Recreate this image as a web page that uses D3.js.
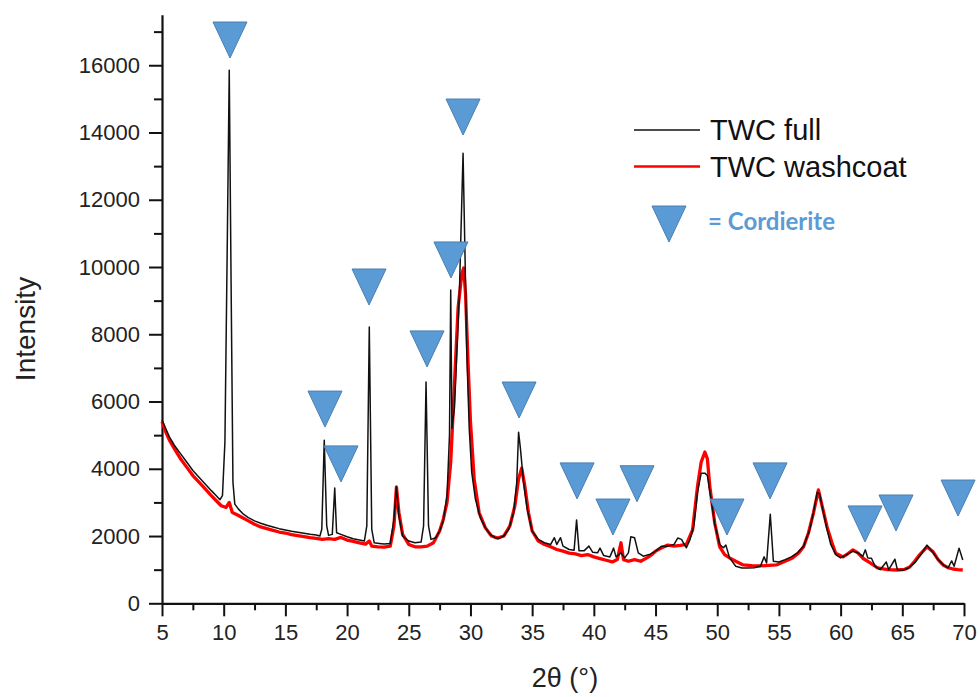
<!DOCTYPE html>
<html>
<head>
<meta charset="utf-8">
<script src="https://cdn.jsdelivr.net/npm/d3@7/dist/d3.min.js"></script>
<style>
  html, body { margin: 0; padding: 0; background: #fff; }
  svg { display: block; }
  .axis text { font-family: "Liberation Sans", Arial, sans-serif; font-size: 22px; fill: #222; }
  .axis path, .axis line { stroke: #111; }
</style>
</head>
<body>
<svg id="chart" width="980" height="697"></svg>
<script>
// XRD pattern of the full three-way catalyst: [2θ (°), intensity]
const twcFull = [
  [5.0,5450],[5.3,5200],[5.6,4950],[6.0,4700],[6.5,4450],[7.0,4200],[7.5,3950],[8.0,3750],
  [8.5,3550],[9.0,3350],[9.4,3200],[9.7,3080],[9.9,3200],[10.1,4800],[10.3,11000],[10.45,15850],
  [10.6,9500],[10.75,3600],[10.9,2950],[11.2,2800],[11.6,2650],[12.0,2550],[12.5,2450],[13.0,2380],
  [13.5,2320],[14.0,2270],[14.5,2220],[15.0,2180],[15.5,2140],[16.0,2110],[16.5,2080],[17.0,2050],
  [17.5,2030],[17.8,2000],[17.95,2200],[18.15,4850],[18.35,2300],[18.5,2020],[18.8,2050],[19.0,3430],
  [19.15,2100],[19.5,2050],[20.0,1980],[20.5,1920],[21.0,1880],[21.4,1850],[21.6,2300],[21.8,8215],
  [22.0,2200],[22.2,1800],[22.6,1780],[23.0,1760],[23.5,1780],[23.8,2500],[24.0,3460],[24.2,2600],
  [24.5,2000],[25.0,1850],[25.5,1800],[26.0,1820],[26.2,2300],[26.4,6580],[26.6,2300],[26.8,1900],
  [27.2,1950],[27.5,2150],[27.8,2450],[28.1,3200],[28.3,5000],[28.4,9320],[28.5,5200],[28.7,5800],
  [28.9,7500],[29.1,9200],[29.3,12000],[29.4,13380],[29.55,10500],[29.7,7500],[29.9,5200],[30.1,3900],
  [30.4,3100],[30.8,2550],[31.2,2250],[31.6,2050],[32.0,1950],[32.3,1930],[32.7,2000],[33.1,2200],
  [33.5,2700],[33.75,3600],[33.9,5090],[34.05,4600],[34.3,3600],[34.6,2800],[35.0,2150],[35.5,1900],
  [36.0,1800],[36.5,1750],[36.8,1950],[37.0,1750],[37.3,1950],[37.5,1700],[38.0,1600],[38.4,1580],
  [38.6,2480],[38.8,1560],[39.2,1560],[39.6,1700],[39.9,1520],[40.3,1500],[40.5,1640],[40.8,1420],
  [41.3,1380],[41.6,1640],[41.8,1380],[42.2,1500],[42.5,1350],[42.8,1500],[43.0,1980],[43.3,1950],
  [43.6,1500],[44.0,1400],[44.5,1450],[45.0,1550],[45.5,1700],[46.0,1700],[46.5,1750],[46.8,1940],
  [47.1,1900],[47.5,1650],[47.8,1900],[48.1,2300],[48.4,3300],[48.7,3870],[49.0,3870],[49.2,3800],
  [49.5,3100],[49.8,2350],[50.2,1750],[50.5,1650],[50.7,1730],[51.0,1350],[51.5,1100],[52.0,1050],
  [52.5,1050],[53.0,1060],[53.5,1100],[53.8,1380],[54.0,1200],[54.3,2650],[54.55,1250],[55.0,1230],
  [55.5,1300],[56.0,1380],[56.5,1500],[57.0,1700],[57.5,2200],[57.8,2700],[58.1,3300],[58.3,3250],
  [58.6,2700],[58.9,2200],[59.2,1750],[59.6,1450],[60.0,1350],[60.5,1450],[61.0,1550],[61.4,1500],
  [61.8,1400],[62.0,1590],[62.2,1350],[62.5,1340],[62.8,1100],[63.2,1000],[63.7,1230],[63.9,1000],
  [64.4,1310],[64.6,1000],[65.0,980],[65.5,1050],[66.0,1200],[66.5,1450],[67.0,1730],[67.4,1550],
  [67.8,1350],[68.3,1150],[68.7,1050],[69.0,1260],[69.2,1100],[69.6,1640],[69.9,1290]
];

// XRD pattern of the washcoat alone: [2θ (°), intensity]
const twcWashcoat = [
  [5.0,5400],[5.3,5100],[5.6,4850],[6.0,4600],[6.5,4300],[7.0,4050],[7.5,3800],[8.0,3600],
  [8.5,3400],[9.0,3200],[9.4,3050],[9.8,2900],[10.2,2850],[10.45,3000],[10.7,2700],[11.0,2650],
  [11.5,2550],[12.0,2450],[12.5,2350],[13.0,2270],[13.5,2220],[14.0,2170],[14.5,2120],[15.0,2090],
  [15.5,2040],[16.0,2010],[16.5,1980],[17.0,1950],[17.5,1930],[18.0,1900],[18.5,1920],[19.0,1900],
  [19.5,1960],[20.0,1880],[20.5,1840],[21.0,1800],[21.5,1760],[21.8,1850],[22.0,1700],[22.5,1680],
  [23.0,1670],[23.5,1700],[23.8,2300],[24.0,3460],[24.2,2700],[24.5,2050],[25.0,1750],[25.5,1680],
  [26.0,1680],[26.5,1700],[27.0,1800],[27.5,2150],[27.8,2500],[28.1,3000],[28.4,4200],[28.7,6500],
  [29.0,8800],[29.3,9800],[29.45,9970],[29.6,9200],[29.8,7200],[30.0,5400],[30.3,3700],[30.7,2700],
  [31.2,2250],[31.7,2000],[32.2,1940],[32.7,2000],[33.2,2300],[33.6,2900],[33.9,3700],[34.15,4020],
  [34.4,3500],[34.7,2700],[35.0,2150],[35.5,1850],[36.0,1750],[36.5,1680],[37.0,1600],[37.5,1550],
  [38.0,1490],[38.5,1470],[39.0,1420],[39.5,1450],[40.0,1380],[40.5,1330],[41.0,1280],[41.5,1230],
  [41.9,1300],[42.2,1800],[42.4,1300],[42.8,1250],[43.3,1300],[43.8,1250],[44.3,1350],[44.7,1450],
  [45.0,1550],[45.5,1650],[46.0,1730],[46.5,1700],[47.0,1720],[47.5,1750],[48.0,2180],[48.4,3470],
  [48.7,4200],[49.0,4500],[49.2,4300],[49.4,3470],[49.8,2380],[50.2,1680],[50.6,1450],[51.0,1350],
  [51.5,1250],[52.1,1140],[52.8,1120],[53.5,1110],[54.2,1130],[54.8,1140],[55.5,1250],[56.1,1350],
  [56.6,1500],[57.0,1680],[57.4,2100],[57.8,2690],[58.2,3370],[58.5,2900],[58.9,2270],[59.3,1800],
  [59.6,1490],[60.2,1380],[60.6,1480],[61.0,1590],[61.4,1500],[61.8,1340],[62.4,1200],[63.0,1050],
  [63.8,1000],[64.6,990],[65.2,1010],[65.6,1080],[66.0,1250],[66.4,1440],[67.0,1680],[67.5,1530],
  [67.9,1300],[68.3,1140],[68.7,1060],[69.1,1020],[69.5,1000],[69.9,990]
];

// Cordierite reflection markers: [2θ (°), intensity at marker tip]
const cordieriteMarks = [
  [10.51,16215],[18.21,5240],[19.51,3610],[21.78,8870],[26.48,7030],[28.42,9675],
  [29.40,13925],[33.94,5510],[38.64,3105],[41.55,2030],[43.50,3020],[50.79,2030],
  [54.28,3105],[61.98,1825],[64.49,2150],[69.52,2595]
];

const seriesNames = ["TWC full", "TWC washcoat"];
const seriesColors = ["#111111", "#ff0000"];
const xTicks = [5,10,15,20,25,30,35,40,45,50,55,60,65,70];
const yTicks = [0,2000,4000,6000,8000,10000,12000,14000,16000];
const xLabel = "2\u03B8 (\u00B0)";
const yLabel = "Intensity";
const markerLabel = "= Cordierite";

const svg = d3.select("#chart");
const x = d3.scaleLinear().domain([5, 70]).range([162, 964]);
const y = d3.scaleLinear().domain([0, 17500]).range([603.3, 14.8]);

// minor ticks (no labels)
svg.append("g").attr("class", "axis")
  .attr("transform", "translate(0,603.3)")
  .call(d3.axisBottom(x).tickValues(d3.range(7.5, 70, 5)).tickSize(7).tickFormat(""))
  .call(g => g.select(".domain").remove())
  .selectAll("line").attr("stroke-width", 2);
svg.append("g").attr("class", "axis")
  .attr("transform", "translate(162,0)")
  .call(d3.axisLeft(y).tickValues(d3.range(1000, 17500, 2000)).tickSize(8).tickFormat(""))
  .call(g => g.select(".domain").remove())
  .selectAll("line").attr("stroke-width", 2);

// major axes
const gx = svg.append("g").attr("class", "axis")
  .attr("transform", "translate(0,603.3)")
  .call(d3.axisBottom(x).tickValues(xTicks).tickSize(13).tickSizeOuter(0).tickPadding(8).tickFormat(d3.format("d")));
gx.select(".domain").attr("stroke-width", 2.2);
gx.selectAll(".tick line").attr("stroke-width", 2);

const gy = svg.append("g").attr("class", "axis")
  .attr("transform", "translate(162,0)")
  .call(d3.axisLeft(y).tickValues(yTicks).tickSize(13).tickSizeOuter(0).tickPadding(9).tickFormat(d3.format("d")));
gy.select(".domain").attr("stroke-width", 2.2);
gy.selectAll(".tick line").attr("stroke-width", 2);

// axis titles
svg.append("text")
  .attr("x", 565).attr("y", 687)
  .attr("text-anchor", "middle")
  .style("font-family", "'Liberation Sans', Arial, sans-serif")
  .style("font-size", "27px").style("fill", "#222")
  .text(xLabel);
svg.append("text")
  .attr("transform", "translate(35,329) rotate(-90)")
  .attr("text-anchor", "middle")
  .style("font-family", "'Liberation Sans', Arial, sans-serif")
  .style("font-size", "28px").style("fill", "#222")
  .text(yLabel);

// diffraction curves: washcoat underneath, full catalyst on top
const line = d3.line().x(d => x(d[0])).y(d => y(d[1])).curve(d3.curveLinear);
svg.append("path").datum(twcWashcoat)
  .attr("fill", "none").attr("stroke", seriesColors[1])
  .attr("stroke-width", 3.3).attr("stroke-linejoin", "round")
  .attr("d", line);
svg.append("path").datum(twcFull)
  .attr("fill", "none").attr("stroke", seriesColors[0])
  .attr("stroke-width", 1.5).attr("stroke-linejoin", "round")
  .attr("d", line);

// cordierite markers: downward triangles with the tip at the reflection
const triW = 34, triH = 36;
const tri = (cx, tipY) => `M${cx - triW / 2},${tipY - triH} L${cx + triW / 2},${tipY - triH} L${cx},${tipY} Z`;
svg.append("g").selectAll("path").data(cordieriteMarks).join("path")
  .attr("d", d => tri(x(d[0]), y(d[1])))
  .attr("fill", "#5b9bd5").attr("stroke", "#4a7fb0").attr("stroke-width", 1);

// legend
const legend = svg.append("g");
seriesNames.forEach((name, i) => {
  const ly = 130 + i * 36.5;
  legend.append("line")
    .attr("x1", 634).attr("x2", 700).attr("y1", ly).attr("y2", ly)
    .attr("stroke", seriesColors[i]).attr("stroke-width", i === 0 ? 1.4 : 2.5);
  legend.append("text")
    .attr("x", 710).attr("y", ly + 10)
    .style("font-family", "'Liberation Sans', Arial, sans-serif")
    .style("font-size", "29px").style("fill", "#111")
    .text(name);
});
legend.append("path").attr("d", tri(669, 242))
  .attr("fill", "#5b9bd5").attr("stroke", "#4a7fb0").attr("stroke-width", 1);
legend.append("text")
  .attr("x", 708).attr("y", 230)
  .style("font-family", "Lato, 'Open Sans', sans-serif")
  .style("font-weight", "bold").style("font-size", "24px").style("fill", "#5b9bd5")
  .text(markerLabel);
</script>
</body>
</html>
